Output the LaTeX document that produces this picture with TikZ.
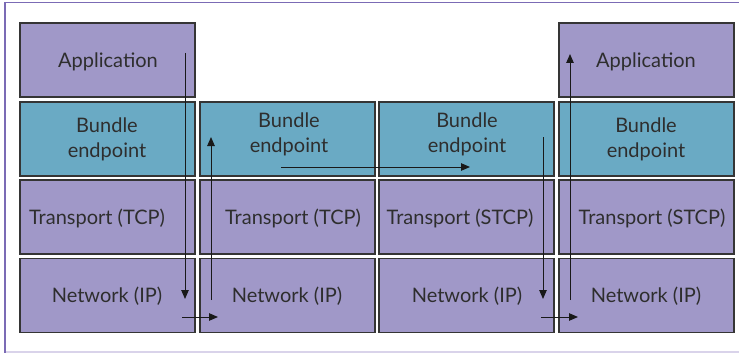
\documentclass[tikz,border=0pt]{standalone}
\usepackage{fontspec}
\setmainfont{Lato}
\usetikzlibrary{arrows.meta}
\definecolor{lav}{HTML}{A098C8}
\definecolor{teal2}{HTML}{6AAAC4}
\definecolor{boxline}{HTML}{353535}
\definecolor{txtc}{HTML}{2E2E2E}
\definecolor{frameP}{HTML}{7B6BB5}
\definecolor{frameL}{HTML}{D9D3EA}
\tikzset{
  layerbox/.style={draw=boxline, line width=1.1pt, minimum width=#1, minimum height=74pt, inner sep=0pt, outer sep=0pt},
  appbox/.style={layerbox=#1, fill=lav},
  bunbox/.style={layerbox=#1, fill=teal2},
  txt/.style={text=txtc, font=\fontsize{20}{24}\selectfont, inner sep=0pt, anchor=base},
  flow/.style={draw=black!90, line width=1pt, -{Triangle[length=9pt,width=7.5pt]}},
}
\begin{document}
\begin{tikzpicture}[x=1pt,y=-1pt]
\useasboundingbox (0,0) rectangle (739,353);
% frame
\draw[frameL, line width=2.5pt] (5,352) -- (739,352);
\draw[frameP, line width=1.5pt] (5,353) -- (5,2.5) -- (739,2.5);
% column 1
\node[appbox=175pt] (a1) at (107.5,60) {};
\node[bunbox=175pt] (b1) at (107.5,139) {};
\node[appbox=175pt] (t1) at (107.5,217) {};
\node[appbox=175pt] (n1) at (107.5,295.5) {};
% column 2
\node[bunbox=175pt] (b2) at (287.5,139) {};
\node[appbox=175pt] (t2) at (287.5,217) {};
\node[appbox=175pt] (n2) at (287.5,295.5) {};
% column 3
\node[bunbox=175pt] (b3) at (466.5,139) {};
\node[appbox=175pt] (t3) at (466.5,217) {};
\node[appbox=175pt] (n3) at (466.5,295.5) {};
% column 4
\node[appbox=175pt] (a4) at (646.5,60) {};
\node[bunbox=175pt] (b4) at (646.5,139) {};
\node[appbox=175pt] (t4) at (646.5,217) {};
\node[appbox=175pt] (n4) at (646.5,295.5) {};
% texts
\node[txt] at (108,68) {Application};
\node[txt] at (107,132) {Bundle};
\node[txt] at (107,157) {endpoint};
\node[txt] at (97,224) {Transport (TCP)};
\node[txt] at (107,302) {Network (IP)};
\node[txt] at (289,127) {Bundle};
\node[txt] at (289,152) {endpoint};
\node[txt] at (293,224) {Transport (TCP)};
\node[txt] at (287,302) {Network (IP)};
\node[txt] at (467,127) {Bundle};
\node[txt] at (467,152) {endpoint};
\node[txt] at (460,224) {Transport (STCP)};
\node[txt] at (467,302) {Network (IP)};
\node[txt] at (646,68) {Application};
\node[txt] at (646,132) {Bundle};
\node[txt] at (646,157) {endpoint};
\node[txt] at (652,224) {Transport (STCP)};
\node[txt] at (646,302) {Network (IP)};
% flow points
\coordinate (p1) at (185,53);
\coordinate (p2) at (185,299);
\coordinate (p3) at (182,317);
\coordinate (p4) at (218,317);
\coordinate (p5) at (211,300);
\coordinate (p6) at (211,137);
\coordinate (p7) at (281,167);
\coordinate (p8) at (470,167);
\coordinate (p9) at (543,137);
\coordinate (p10) at (543,299);
\coordinate (p11) at (541,317);
\coordinate (p12) at (578,317);
\coordinate (p13) at (570,300);
\coordinate (p14) at (570,54);
\draw[flow] (p1) -- (p2);
\draw[flow] (p3) -- (p4);
\draw[flow] (p5) -- (p6);
\draw[flow] (p7) -- (p8);
\draw[flow] (p9) -- (p10);
\draw[flow] (p11) -- (p12);
\draw[flow] (p13) -- (p14);
\end{tikzpicture}
\end{document}
